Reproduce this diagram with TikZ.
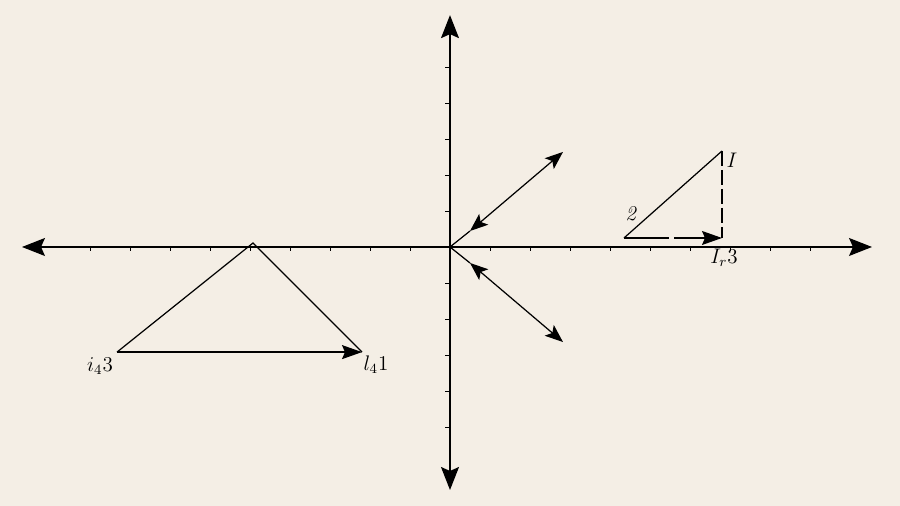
\documentclass[tikz,border=0pt]{standalone}
\usetikzlibrary{arrows.meta}
\definecolor{paper}{RGB}{244,238,229}
\begin{document}
\begin{tikzpicture}[x=0.8cm,y=0.72cm,line width=0.7pt,>={Stealth[length=4.6mm,width=3.6mm,inset=0.8mm]},
	vec/.style={{Stealth[length=3.6mm,width=2.8mm,inset=0.8mm]}-{Stealth[length=3.6mm,width=2.8mm,inset=0.8mm]}},
	base/.style={-{Stealth[length=4mm,width=2.8mm,inset=0.6mm]}},
	lbl/.style={inner sep=1pt,font=\large}]
	\fill[paper] (-11.25,-7.194) rectangle (11.25,6.861);
	% axes
	\coordinate (o) at (0,0);
	\coordinate (xl) at (-10.7,0);
	\coordinate (xr) at (10.55,0);
	\coordinate (yb) at (0,-6.75);
	\coordinate (yt) at (0,6.44);
	\draw[<->] (xl)--(xr);
	\draw[<->] (yb)--(yt);
	\foreach \x in {-9,...,-1,1,2,...,9}
		\draw[line width=0.5pt] (\x,0)--(\x,-0.12);
	\foreach \y in {-5,...,-1,1,2,...,5}
		\draw[line width=0.5pt] (0,\y)--(-0.12,\y);
	% vectors at the origin
	\coordinate (u1) at (0.5,0.444);
	\coordinate (u2) at (2.825,2.64);
	\coordinate (d1) at (0.5,-0.444);
	\coordinate (d2) at (2.825,-2.64);
	\draw (o)--(u1);
	\draw[vec] (u1)--(u2);
	\draw (o)--(d1);
	\draw[vec] (d1)--(d2);
	% left triangle
	\coordinate (A) at (-4.925,0.11);
	\coordinate (B) at (-8.325,-2.92);
	\coordinate (C) at (-2.2,-2.92);
	\draw (B)--(A)--(C);
	\draw[base] (B)--(C);
	\node[lbl] (lb) at (-8.75,-3.3) {$i_{4}3$};
	\node[lbl] (lc) at (-1.85,-3.28) {$l_{4}1$};
	% right triangle
	\coordinate (P) at (4.35,0.25);
	\coordinate (Q) at (6.8,2.667);
	\coordinate (R) at (6.8,0.25);
	\draw (P)--(Q);
	\draw[dash pattern=on 3mm off 0.8mm] (Q)--(R);
	\draw[base,dash pattern=on 9mm off 1mm] (P)--(R);
	\node[lbl] (lq) at (7.05,2.4) {$I$};
	\node[lbl] (lp) at (4.525,0.917) {\textit{2}};
	\node[lbl] (lr) at (6.85,-0.3) {$I_{r}3$};
\end{tikzpicture}
\end{document}
